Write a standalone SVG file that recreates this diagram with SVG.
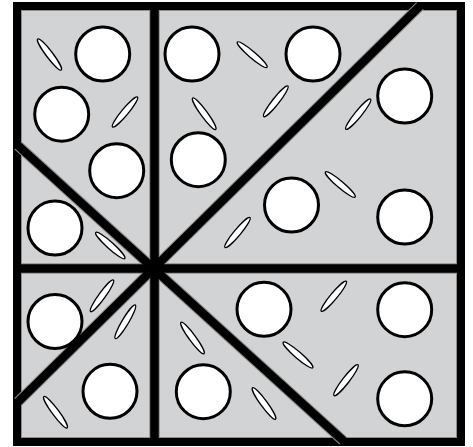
<svg xmlns="http://www.w3.org/2000/svg" width="473" height="447" viewBox="0 0 473 447">
<style>
.c{fill:#fff;stroke:#000;stroke-width:3}
.e{fill:#fff;stroke:#000;stroke-width:1.3}
.lg{stroke:#8c8c8c;stroke-width:10.5;fill:none}
.lb{stroke:#000;stroke-width:8.5;fill:none}
</style>
<defs>
<ellipse id="el" cx="0" cy="0" rx="19.5" ry="3.3" class="e"/>
<clipPath id="fr"><rect x="13" y="2" width="452" height="444"/></clipPath>
</defs>
<rect width="473" height="447" fill="#fff"/>
<g id="frame">
<rect x="13" y="2" width="452" height="444" fill="#000"/>
<rect x="21.5" y="10.5" width="435" height="427" fill="#d1d3d4" stroke="#8c8c8c" stroke-width="1"/>
</g>
<g id="connectors" clip-path="url(#fr)">
<line class="lg" x1="154.5" y1="10" x2="154.5" y2="438"/>
<line class="lg" x1="21" y1="268.5" x2="457" y2="268.5"/>
<line class="lg" x1="18" y1="145.5" x2="343" y2="440.5"/>
<line class="lg" x1="18" y1="402" x2="420" y2="6"/>
<line class="lb" x1="154.5" y1="6" x2="154.5" y2="442"/>
<line class="lb" x1="17" y1="268.5" x2="461" y2="268.5"/>
<line class="lb" x1="15" y1="142.8" x2="346" y2="443.2"/>
<line class="lb" x1="15" y1="405" x2="423" y2="3"/>
</g>
<g id="circles">
<circle class="c" cx="102.7" cy="54" r="27"/>
<circle class="c" cx="192" cy="54" r="27"/>
<circle class="c" cx="313" cy="54" r="27"/>
<circle class="c" cx="61.7" cy="114.2" r="27"/>
<circle class="c" cx="404.7" cy="96" r="27"/>
<circle class="c" cx="116.7" cy="170.7" r="27"/>
<circle class="c" cx="198.3" cy="159.7" r="27"/>
<circle class="c" cx="55" cy="228" r="27"/>
<circle class="c" cx="291.5" cy="205" r="27"/>
<circle class="c" cx="404.7" cy="217" r="27"/>
<circle class="c" cx="55" cy="321.5" r="27"/>
<circle class="c" cx="264" cy="309.3" r="27"/>
<circle class="c" cx="404.7" cy="309.7" r="27"/>
<circle class="c" cx="110" cy="391.3" r="27"/>
<circle class="c" cx="203.3" cy="391.7" r="27"/>
<circle class="c" cx="404.7" cy="398.8" r="27"/>
</g>
<g id="ellipses">
<use href="#el" transform="translate(49.5 54.5) rotate(53)"/>
<use href="#el" transform="translate(125 112) rotate(-50)"/>
<use href="#el" transform="translate(204.2 113.7) rotate(54)"/>
<use href="#el" transform="translate(252.2 54.7) rotate(40.6)"/>
<use href="#el" transform="translate(275.8 101.3) rotate(-51.6)"/>
<use href="#el" transform="translate(358.2 114.2) rotate(-50.5)"/>
<use href="#el" transform="translate(340.3 184.5) rotate(40.5)"/>
<use href="#el" transform="translate(237.5 232.5) rotate(-50)"/>
<use href="#el" transform="translate(110.3 245.5) rotate(42)"/>
<use href="#el" transform="translate(102 295.8) rotate(-54)"/>
<use href="#el" transform="translate(125.3 321.8) rotate(-59)"/>
<use href="#el" transform="translate(55.5 412.2) rotate(53.5)"/>
<use href="#el" transform="translate(192.5 338) rotate(54)"/>
<use href="#el" transform="translate(333.8 296.3) rotate(-50)"/>
<use href="#el" transform="translate(298 355) rotate(41)"/>
<use href="#el" transform="translate(346 380.2) rotate(-52)"/>
<use href="#el" transform="translate(264 403.5) rotate(54)"/>
</g>
</svg>
